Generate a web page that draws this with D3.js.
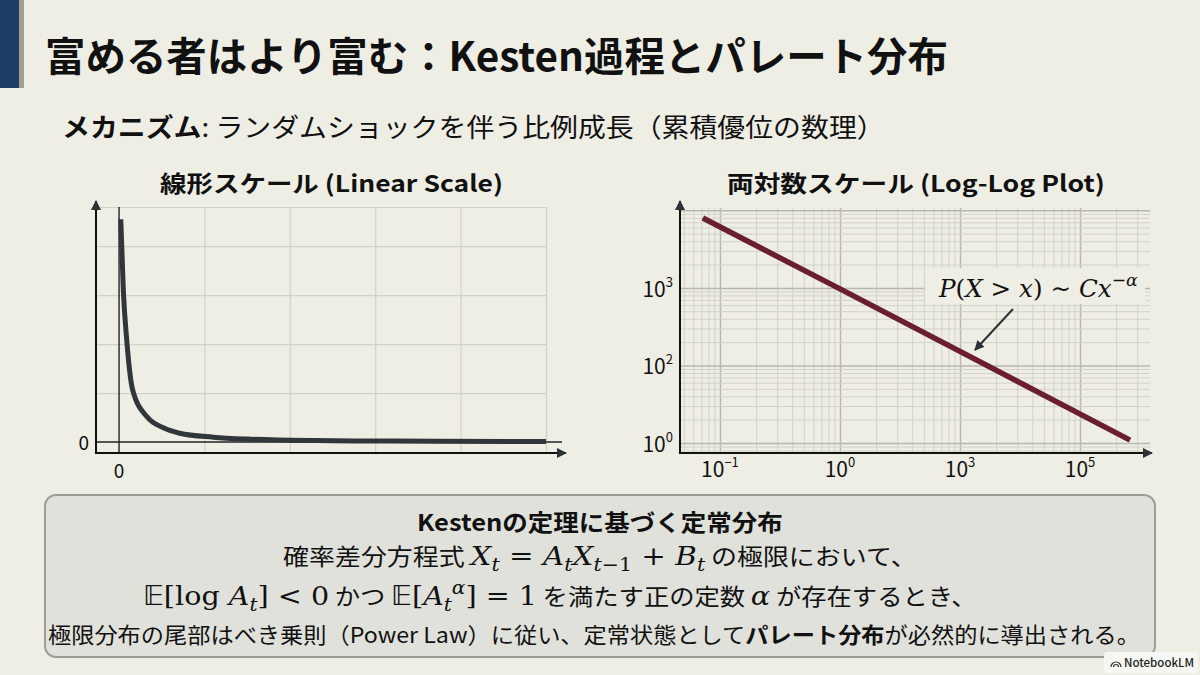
<!DOCTYPE html>
<html lang="ja">
<head>
<meta charset="UTF-8">
<title>富める者はより富む：Kesten過程とパレート分布</title>
<script src="https://d3js.org/d3.v7.min.js"></script>
<style>
  body { margin: 0; overflow: hidden; background: #efeee5; }
  svg { display: block; }
  text { font-family: "Noto Sans CJK JP", "Noto Sans", sans-serif; fill: #111; white-space: pre; }
</style>
</head>
<body>
<svg id="slide"></svg>
<script>
const W = 1200, H = 675;

// linear panel: heavy-tailed density (grid units)
const linX = [0.02, 0.05, 0.09, 0.16, 0.33, 0.52, 0.71, 1.1, 1.5, 2.3, 3.2, 5.0];
const linY = [4.55, 3.1, 2.08, 1.06, 0.51, 0.29, 0.18, 0.1, 0.06, 0.03, 0.02, 0.01];
const linXTicks = [0];
const linYTicks = [0];

// log-log panel: straight power-law line
const logX = [0.072, 1, 261];
const logY = [795, 97, 1.09];
const logXTicks = [0.1, 1, 10, 100];
const logXTickSup = ["−1", "0", "3", "5"];
const logYTicks = [1, 10, 100];
const logYTickSup = ["0", "2", "3"];

const BG = "#efeee5";
const svg = d3.select("#slide").attr("width", W).attr("height", H);
svg.append("rect").attr("width", W).attr("height", H).attr("fill", BG);

// arrowhead
svg.append("defs").append("marker")
    .attr("id", "tip").attr("viewBox", "0 0 10 10")
    .attr("refX", 9).attr("refY", 5)
    .attr("markerWidth", 5).attr("markerHeight", 5)
    .attr("markerUnits", "strokeWidth")
    .attr("orient", "auto")
  .append("path").attr("d", "M0,0 L10,5 L0,10 z").attr("fill", "#2b3236");

// stretch a text horizontally so it spans x0..x1
function fit(t, x0, x1) {
    const w = t.node().getBBox().width;
    const k = (x1 - x0) / w;
    t.attr("transform", `translate(${x0},0) scale(${k},1) translate(${-x0},0)`);
    return t;
}

const SERIF = '"DejaVu Serif", "Liberation Serif", serif';
const JP = '"Noto Sans CJK JP", sans-serif';

// mixed text: parts are [string, kind, dx]
function rich(g, x, y, size, msize, parts) {
    const t = g.append("text").attr("x", x).attr("y", y);
    let shift = 0;
    parts.forEach(([s, kind, dx]) => {
        const sp = t.append("tspan").text(s);
        let fam = SERIF, st = "normal", wt = 400, fs = msize, target = 0;
        if (kind === "jp") { fam = JP; fs = size; }
        if (kind === "jb") { fam = JP; fs = size; wt = 700; }
        if (kind === "mi") st = "italic";
        if (kind === "bb") fam = '"DejaVu Sans", "DejaVu Serif", serif';
        if (kind === "sub" || kind === "subu") { fs = msize * 0.7; target = msize * 0.25; st = kind === "sub" ? "italic" : "normal"; }
        if (kind === "sup" || kind === "supu") { fs = msize * 0.7; target = -msize * 0.42; st = kind === "sup" ? "italic" : "normal"; }
        sp.attr("font-family", fam).attr("font-style", st).attr("font-weight", wt).attr("font-size", fs);
        if (target !== shift) sp.attr("dy", target - shift);
        shift = target;
        if (dx) sp.attr("dx", dx);
    });
    return t;
}

// header
svg.append("rect").attr("x", 0).attr("y", 0).attr("width", 19).attr("height", 88).attr("fill", "#1e3d66");
svg.append("rect").attr("x", 19).attr("y", 0).attr("width", 5).attr("height", 88).attr("fill", "#a29f8c");

fit(rich(svg, 45, 71, 40, 40, [["富める者はより富む：Kesten過程とパレート分布", "jb"]]), 45, 948);
fit(rich(svg, 62, 137, 26, 26, [["メカニズム", "jb"], [": ランダムショックを伴う比例成長（累積優位の数理）", "jp"]]), 62, 885);
fit(rich(svg, 160, 192, 23, 23, [["線形スケール (Linear Scale)", "jb"]]), 160, 503);
fit(rich(svg, 727, 192, 23, 23, [["両対数スケール (Log-Log Plot)", "jb"]]), 727, 1105);

// ---------- linear panel ----------
const lx = d3.scaleLinear().domain([-0.27, 5]).range([96, 546]);
const ly = d3.scaleLinear().domain([-0.224, 4.8]).range([453, 207]);
const lin = svg.append("g");

lin.append("g").attr("transform", "translate(0,453)")
    .call(d3.axisBottom(lx).tickValues([1, 2, 3, 4, 5]).tickSize(-246).tickFormat(""))
    .call(g => g.select(".domain").remove())
    .call(g => g.selectAll("line").attr("stroke", "#d2d1c7").attr("stroke-width", 1.2));
lin.append("g").attr("transform", "translate(96,0)")
    .call(d3.axisLeft(ly).tickValues([1, 2, 3, 4, 4.8]).tickSize(-450).tickFormat(""))
    .call(g => g.select(".domain").remove())
    .call(g => g.selectAll("line").attr("stroke", "#d2d1c7").attr("stroke-width", 1.2));

// zero lines
lin.append("line").attr("x1", lx(0)).attr("x2", lx(0)).attr("y1", ly(4.8)).attr("y2", 453)
    .attr("stroke", "#222").attr("stroke-width", 1.4);
lin.append("line").attr("x1", 96).attr("x2", 562).attr("y1", ly(0)).attr("y2", ly(0))
    .attr("stroke", "#222").attr("stroke-width", 1.4);

lin.append("path")
    .datum(d3.zip(linX, linY))
    .attr("fill", "none").attr("stroke", "#30363a").attr("stroke-width", 5)
    .attr("d", d3.line().x(d => lx(d[0])).y(d => ly(d[1])).curve(d3.curveMonotoneX));

// axes with arrows
lin.append("line").attr("x1", 96).attr("y1", 453).attr("x2", 96).attr("y2", 201)
    .attr("stroke", "#111").attr("stroke-width", 2).attr("marker-end", "url(#tip)");
lin.append("line").attr("x1", 95).attr("y1", 453).attr("x2", 566).attr("y2", 453)
    .attr("stroke", "#111").attr("stroke-width", 2).attr("marker-end", "url(#tip)");

linXTicks.forEach(v => lin.append("text").attr("x", lx(v)).attr("y", 478)
    .attr("text-anchor", "middle").attr("font-size", 19).attr("font-family", '"DejaVu Sans", sans-serif').text(v));
linYTicks.forEach(v => lin.append("text").attr("x", 89).attr("y", ly(v) + 8)
    .attr("text-anchor", "end").attr("font-size", 19).attr("font-family", '"DejaVu Sans", sans-serif').text(v));

// ---------- log-log panel ----------
const gx = d3.scaleLog().domain([10 ** -1.333, 10 ** 2.583]).range([680, 1150]);
const gy = d3.scaleLog().domain([10 ** -0.129, 10 ** 3.03]).range([453, 208]);
const isMajor = v => Math.abs(Math.log10(v) - Math.round(Math.log10(v))) < 1e-9;
const lg = svg.append("g");

lg.append("g").attr("transform", "translate(0,453)")
    .call(d3.axisBottom(gx).tickValues(gx.ticks()).tickSize(-245).tickFormat(""))
    .call(g => g.select(".domain").remove())
    .call(g => g.selectAll(".tick line")
        .attr("stroke", d => isMajor(d) ? "#b9b8ae" : "#d3d2c8")
        .attr("stroke-width", d => isMajor(d) ? 1.5 : 1));
lg.append("g").attr("transform", "translate(680,0)")
    .call(d3.axisLeft(gy).tickValues(gy.ticks()).tickSize(-470).tickFormat(""))
    .call(g => g.select(".domain").remove())
    .call(g => g.selectAll(".tick line")
        .attr("stroke", d => isMajor(d) ? "#b9b8ae" : "#d3d2c8")
        .attr("stroke-width", d => isMajor(d) ? 1.5 : 1));

lg.append("path")
    .datum(d3.zip(logX, logY))
    .attr("fill", "none").attr("stroke", "#6a1f2f").attr("stroke-width", 5.5)
    .attr("d", d3.line().x(d => gx(d[0])).y(d => gy(d[1])));

lg.append("line").attr("x1", 680).attr("y1", 453).attr("x2", 680).attr("y2", 201)
    .attr("stroke", "#111").attr("stroke-width", 2).attr("marker-end", "url(#tip)");
lg.append("line").attr("x1", 679).attr("y1", 453).attr("x2", 1152).attr("y2", 453)
    .attr("stroke", "#111").attr("stroke-width", 2).attr("marker-end", "url(#tip)");

logXTicks.forEach((v, i) => {
    const t = lg.append("text").attr("x", gx(v)).attr("y", 477).attr("text-anchor", "middle")
        .attr("font-family", '"DejaVu Sans", sans-serif');
    t.append("tspan").attr("font-size", 21).text("10");
    t.append("tspan").attr("font-size", 13).attr("dy", -10).text(logXTickSup[i]);
});
logYTicks.forEach((v, i) => {
    const t = lg.append("text").attr("x", 673).attr("y", gy(v) + 9).attr("text-anchor", "end")
        .attr("font-family", '"DejaVu Sans", sans-serif');
    t.append("tspan").attr("font-size", 21).text("10");
    t.append("tspan").attr("font-size", 13).attr("dy", -10).text(logYTickSup[i]);
});

// annotation
lg.append("rect").attr("x", 925).attr("y", 268).attr("width", 220).attr("height", 36).attr("fill", BG);
fit(rich(lg, 939, 297, 25, 25, [["P", "mi"], ["(", "m"], ["X", "mi"], [" > ", "m"], ["x", "mi"], [")", "m"],
    [" ∼ ", "m"], ["C", "mi"], ["x", "mi"], ["−α", "sup"]]), 939, 1139);
lg.append("line").attr("x1", 1013).attr("y1", 309).attr("x2", 975).attr("y2", 350)
    .attr("stroke", "#2b3236").attr("stroke-width", 2).attr("marker-end", "url(#tip)");

// ---------- theorem box ----------
svg.append("rect").attr("x", 45).attr("y", 495).attr("width", 1110).attr("height", 162).attr("rx", 11)
    .attr("fill", "#e1e1dc").attr("stroke", "#9d9d97").attr("stroke-width", 2);

fit(rich(svg, 417, 531, 23, 23, [["Kestenの定理に基づく定常分布", "jb"]]), 417, 783);
fit(rich(svg, 283, 565, 23, 26, [
    ["確率差分方程式 ", "jp"], ["X", "mi"], ["t", "sub"], [" = ", "m"], ["A", "mi"], ["t", "sub"],
    ["X", "mi"], ["t", "sub"], ["−1", "subu"], [" + ", "m"], ["B", "mi"], ["t", "sub"],
    [" の極限において、", "jp"]]), 283, 917);
fit(rich(svg, 143, 605, 23, 26, [
    ["𝔼", "bb"], ["[log ", "m"], ["A", "mi"], ["t", "sub"], ["] < 0", "m"], [" かつ ", "jp"],
    ["𝔼", "bb"], ["[", "m"], ["A", "mi"], ["t", "sub"], ["α", "sup"], ["] = 1", "m"],
    [" を満たす正の定数 ", "jp"], ["α", "mi"], [" が存在するとき、", "jp"]]), 143, 977);
fit(rich(svg, 48, 643, 22, 22, [
    ["極限分布の尾部はべき乗則（Power Law）に従い、定常状態として", "jp"], ["パレート分布", "jb"],
    ["が必然的に導出される。", "jp"]]), 48, 1140);

// NotebookLM badge
const badge = svg.append("g");
badge.append("rect").attr("x", 1104).attr("y", 652).attr("width", 94).attr("height", 21).attr("rx", 3).attr("fill", "#f6f6f2");
[3, 5.5].forEach(r => badge.append("path")
    .attr("d", d3.arc()({innerRadius: r - 1.1, outerRadius: r + 0.1, startAngle: -Math.PI / 2, endAngle: Math.PI / 2}))
    .attr("transform", "translate(1116,667)").attr("fill", "#333"));
badge.append("text").attr("x", 1124).attr("y", 667).attr("font-size", 11.5).attr("font-family", "Inter, sans-serif")
    .attr("font-weight", 500).style("fill", "#222").text("NotebookLM");
</script>
</body>
</html>
